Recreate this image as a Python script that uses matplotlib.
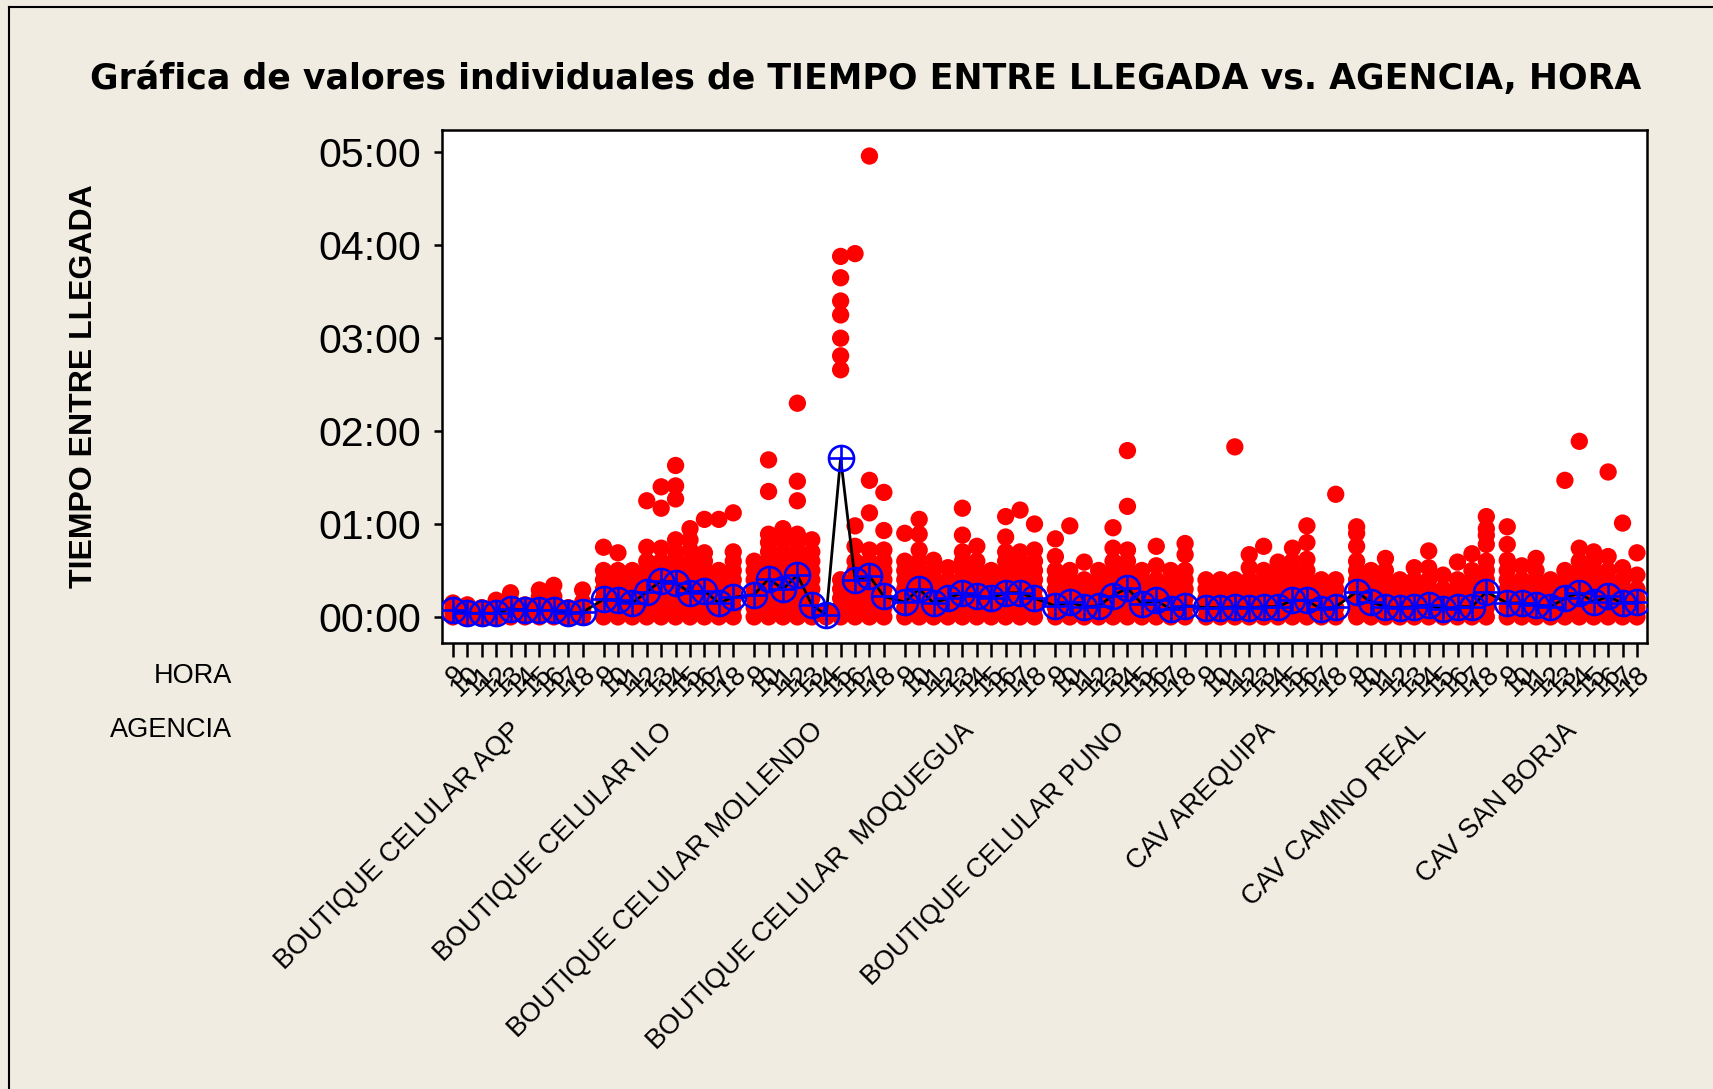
import matplotlib
matplotlib.use('Agg')
import matplotlib.pyplot as plt
from matplotlib.lines import Line2D
import numpy as np

# categorías
horas = ['9', '10', '11', '12', '13', '14', '15', '16', '17', '18']
agencias = ['BOUTIQUE CELULAR AQP', 'BOUTIQUE CELULAR ILO', 'BOUTIQUE CELULAR MOLLENDO',
            'BOUTIQUE CELULAR  MOQUEGUA', 'BOUTIQUE CELULAR PUNO', 'CAV AREQUIPA',
            'CAV CAMINO REAL', 'CAV SAN BORJA']

# valores individuales (horas), una lista por hora 9..18
aqp = [[0, .05, .1, .15], [0, .05, .13], [0, .05, .1], [0, .05, .1, .18],
       [0, .06, .12, .18, .26], [0, .05, .13], [0, .08, .16, .22, .29],
       [0, .07, .14, .22, .34], [0, .05, .1], [0, .08, .16, .29]]
ilo = [[0, .1, .2, .3, .4, .5, .75], [0, .1, .2, .3, .4, .5, .69],
       [0, .1, .2, .3, .4, .5], [0, .1, .2, .3, .4, .5, .6, .75, 1.25],
       [0, .1, .2, .3, .4, .5, .6, .74, 1.17, 1.40],
       [0, .1, .2, .3, .4, .5, .6, .7, .83, 1.27, 1.41, 1.63],
       [0, .1, .2, .3, .4, .5, .6, .72, .83, .95],
       [0, .1, .2, .3, .4, .5, .6, .69, 1.05], [0, .1, .2, .3, .4, .5, 1.05],
       [0, .1, .2, .3, .4, .5, .6, .7, 1.12]]
mollendo = [[0, .1, .2, .3, .4, .5, .6],
            [0, .1, .2, .3, .4, .5, .6, .7, .8, .89, 1.35, 1.69],
            [0, .1, .2, .3, .4, .5, .6, .7, .82, .95],
            [0, .1, .2, .3, .4, .5, .6, .7, .8, .89, 1.25, 1.46, 2.30],
            [0, .1, .2, .3, .4, .5, .6, .7, .83], [0, .03, .06],
            [0, .1, .2, .3, .4, 2.66, 2.81, 3.00, 3.25, 3.40, 3.65, 3.88],
            [0, .1, .2, .3, .4, .5, .6, .76, .98, 3.91],
            [0, .1, .2, .3, .4, .5, .6, .72, 1.12, 1.47, 4.96],
            [0, .1, .2, .3, .4, .5, .6, .72, .93, 1.34]]
moquegua = [[0, .1, .2, .3, .4, .5, .6, .9], [0, .1, .2, .3, .4, .5, .6, .72, .89, 1.05],
            [0, .1, .2, .3, .4, .5, .61], [0, .1, .2, .3, .4, .53],
            [0, .1, .2, .3, .4, .5, .6, .7, .88, 1.17], [0, .1, .2, .3, .4, .5, .6, .76],
            [0, .1, .2, .3, .4, .5], [0, .1, .2, .3, .4, .5, .6, .7, .86, 1.08],
            [0, .1, .2, .3, .4, .5, .6, .7, 1.15], [0, .1, .2, .3, .4, .5, .6, .72, 1.00]]
puno = [[0, .1, .2, .3, .4, .5, .65, .84], [0, .1, .2, .3, .4, .5, .98],
        [0, .1, .2, .3, .4, .59], [0, .1, .2, .3, .4, .5],
        [0, .1, .2, .3, .4, .5, .6, .74, .96], [0, .1, .2, .3, .4, .5, .6, .72, 1.19, 1.79],
        [0, .1, .2, .3, .4, .5], [0, .1, .2, .3, .4, .55, .76],
        [0, .1, .2, .3, .4, .5], [0, .1, .2, .3, .4, .5, .67, .79]]
arequipa = [[0, .1, .2, .3, .4], [0, .1, .2, .3, .4], [0, .1, .2, .3, .4, 1.83],
            [0, .1, .2, .3, .4, .53, .67], [0, .1, .2, .3, .4, .5, .76],
            [0, .1, .2, .3, .4, .5, .59], [0, .1, .2, .3, .4, .5, .6, .74],
            [0, .1, .2, .3, .4, .5, .62, .80, .98], [0, .1, .2, .3, .4],
            [0, .1, .2, .3, .4, 1.32]]
camino_real = [[0, .1, .2, .3, .4, .5, .6, .76, .90, .97], [0, .1, .2, .3, .4, .5],
               [0, .1, .2, .3, .4, .5, .63], [0, .1, .2, .3, .4], [0, .1, .2, .3, .4, .53],
               [0, .1, .2, .3, .4, .53, .71], [0, .1, .2, .3, .45], [0, .1, .2, .3, .4, .59],
               [0, .1, .2, .3, .4, .5, .68], [0, .1, .2, .3, .4, .5, .6, .78, .88, .95, 1.08]]
san_borja = [[0, .1, .2, .3, .4, .5, .61, .78, .97], [0, .1, .2, .3, .4, .55],
             [0, .1, .2, .3, .4, .5, .63], [0, .1, .2, .3, .4], [0, .1, .2, .3, .4, .5, 1.47],
             [0, .1, .2, .3, .4, .5, .6, .74, 1.89], [0, .1, .2, .3, .4, .5, .6, .70],
             [0, .1, .2, .3, .4, .5, .65, 1.56], [0, .1, .2, .3, .4, .53, 1.01],
             [0, .1, .2, .3, .45, .69]]

# medias por hora
media_aqp = [.07, .04, .04, .04, .09, .07, .07, .07, .04, .05]
media_ilo = [.19, .18, .15, .27, .39, .37, .26, .28, .15, .21]
media_mollendo = [.24, .41, .30, .45, .13, .02, 1.71, .40, .44, .22]
media_moquegua = [.16, .30, .15, .20, .26, .23, .20, .26, .26, .20]
media_puno = [.12, .16, .11, .12, .23, .31, .14, .18, .08, .12]
media_arequipa = [.10, .10, .11, .10, .11, .11, .18, .18, .08, .11]
media_camino = [.27, .16, .11, .10, .11, .13, .08, .11, .11, .27]
media_sanborja = [.15, .15, .13, .11, .20, .26, .16, .22, .15, .16]

datos = [aqp, ilo, mollendo, moquegua, puno, arequipa, camino_real, san_borja]
medias = [media_aqp, media_ilo, media_mollendo, media_moquegua, media_puno,
          media_arequipa, media_camino, media_sanborja]

fondo = '#f0ece1'
fuente = 'Liberation Sans'

fig = plt.figure(figsize=(17.13, 10.89), dpi=100, facecolor=fondo)
ax = fig.add_axes([0.258, 0.4096, 0.7035, 0.471])
ax.set_facecolor('white')

paso_grupo = 10.45
pos_todas = []
med_todas = []
for g, grupo in enumerate(datos):
    pos = g * paso_grupo + np.arange(len(horas))
    for x, vals in zip(pos, grupo):
        ax.scatter([x] * len(vals), vals, s=155, c='#ff0000', edgecolors='none', zorder=2)
    pos_todas.extend(pos)
    med_todas.extend(medias[g])

ax.plot(pos_todas, med_todas, color='black', lw=2, zorder=3)
ax.plot(pos_todas, med_todas, 'o', ms=18, mfc='none', mec='#0000ff', mew=1.9, zorder=4)
ax.plot(pos_todas, med_todas, '+', ms=18, mec='#0000ff', mew=1.9, zorder=4)

ax.set_xlim(-0.76, 7 * paso_grupo + 9 + 0.7)
ax.set_ylim(-0.28, 5.24)

ax.set_xticks(pos_todas)
ax.set_xticklabels(horas * len(agencias), rotation=45, ha='right',
                   rotation_mode='anchor', fontsize=20, family=fuente)
ax.set_yticks(range(6))
ax.set_yticklabels([f'{i:02d}:00' for i in range(6)], fontsize=29.5, family=fuente)
ax.tick_params(axis='x', direction='out', length=10, width=1.8, pad=3)
ax.tick_params(axis='y', direction='out', length=6, width=1.8, pad=9)
for s in ax.spines.values():
    s.set_linewidth(1.8)

# etiquetas de agencia
for g, nombre in enumerate(agencias):
    xc = g * paso_grupo + 3.9
    ax.text(xc, -0.146, nombre, transform=ax.get_xaxis_transform(), rotation=45,
            ha='right', va='top', rotation_mode='anchor', fontsize=19.5, family=fuente)

fig.text(0.1354, 0.3792, 'HORA', ha='right', va='center', fontsize=19.5, family=fuente)
fig.text(0.1354, 0.3297, 'AGENCIA', ha='right', va='center', fontsize=19.5, family=fuente)

ax.set_ylabel('TIEMPO ENTRE LLEGADA', fontsize=23, fontweight='bold', family=fuente)
ax.yaxis.set_label_coords(-0.285, 0.5)

fig.text(0.5056, 0.927, 'Gráfica de valores individuales de TIEMPO ENTRE LLEGADA vs. AGENCIA, HORA',
         ha='center', va='center', fontsize=25, fontweight='bold', family='DejaVu Sans')

# marco de la figura
fig.add_artist(Line2D([9 / 1713, 9 / 1713], [0, 1 - 7 / 1089], transform=fig.transFigure,
                      color='black', lw=1.5))
fig.add_artist(Line2D([9 / 1713, 1], [1 - 7 / 1089, 1 - 7 / 1089], transform=fig.transFigure,
                      color='black', lw=1.5))

fig.savefig('out.png', dpi=100, facecolor=fondo)
